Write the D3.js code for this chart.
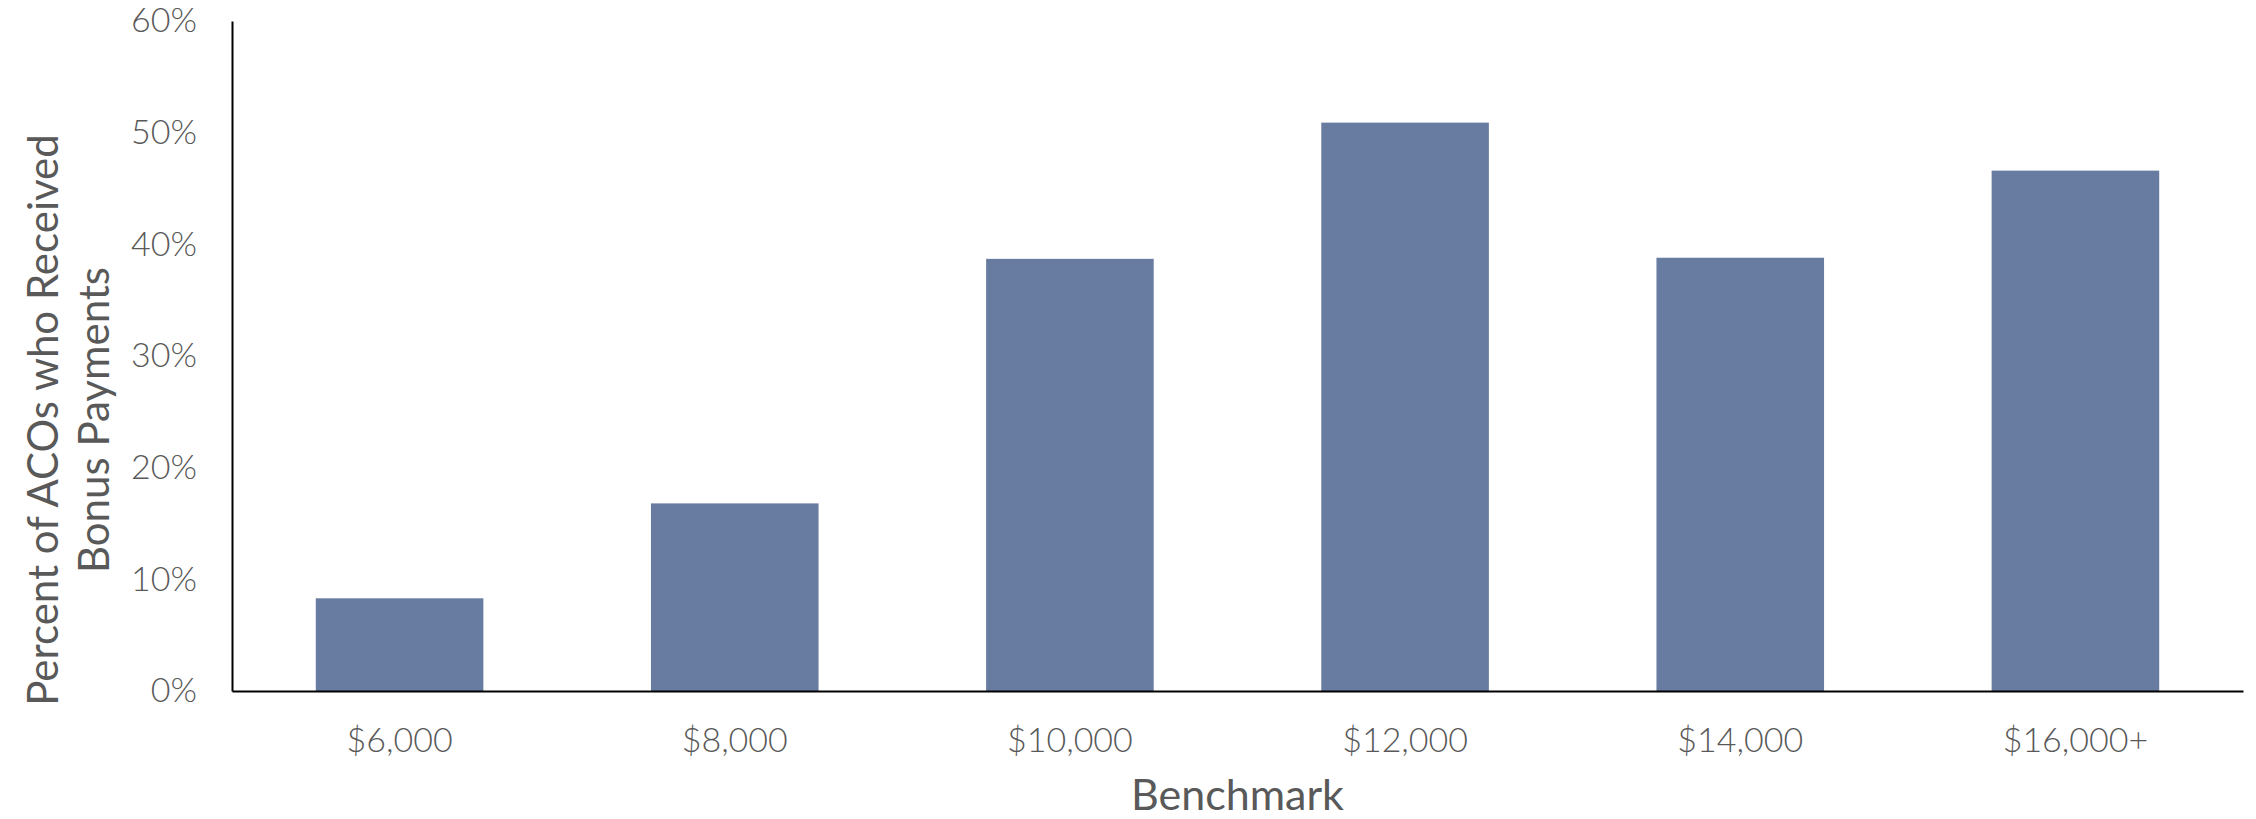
<!DOCTYPE html>
<html>
<head>
<meta charset="utf-8">
<script src="https://cdn.jsdelivr.net/npm/d3@7"></script>
<style>
  body { margin: 0; background: #fff; }
  svg text { font-family: Lato, "Open Sans", sans-serif; fill: #595959; }
</style>
</head>
<body>
<div id="chart"></div>
<script>
const benchmarks = ["$6,000", "$8,000", "$10,000", "$12,000", "$14,000", "$16,000+"];
const percentPaid = [8.3, 16.8, 38.7, 50.9, 38.8, 46.6];
const yTicks = [0, 10, 20, 30, 40, 50, 60];

const WIDTH = 2256, HEIGHT = 819;
const MARGINS = {top: 21, right: 13, bottom: 128, left: 232};
const CHART_WIDTH = WIDTH - MARGINS.left - MARGINS.right;
const CHART_HEIGHT = HEIGHT - MARGINS.top - MARGINS.bottom;
const BAR_COLOR = "#687ba0";

const data = benchmarks.map((b, i) => ({benchmark: b, value: percentPaid[i]}));

const svg = d3.select('#chart')
    .append('svg')
    .attr('width', WIDTH)
    .attr('height', HEIGHT);

const chart = svg.append('g')
    .attr('transform', `translate(${MARGINS.left}, ${MARGINS.top})`);

// scales
const xScale = d3.scaleBand()
    .domain(benchmarks)
    .range([0, CHART_WIDTH])
    .paddingInner(0.5)
    .paddingOuter(0.25);

const yScale = d3.scaleLinear()
    .domain([0, 60])
    .range([CHART_HEIGHT, 0]);

// bars
chart.selectAll('.bar')
    .data(data)
    .enter()
    .append('rect')
    .classed('bar', true)
        .attr('x', d => xScale(d.benchmark))
        .attr('y', d => yScale(d.value))
        .attr('width', xScale.bandwidth())
        .attr('height', d => CHART_HEIGHT - yScale(d.value))
        .style('fill', BAR_COLOR);

// y axis (line only, labels to the left)
const leftAxis = d3.axisLeft(yScale)
    .tickValues(yTicks)
    .tickSize(0)
    .tickPadding(35)
    .tickFormat(d => d + '%');

const yAxisG = chart.append('g').call(leftAxis);
yAxisG.select('.domain').attr('stroke', '#000').attr('stroke-width', 2);
yAxisG.selectAll('text')
    .style('font-size', '34px')
    .style('font-weight', 300)
    .attr('fill', '#595959');

// x axis
const bottomAxis = d3.axisBottom(xScale)
    .tickSize(0)
    .tickPadding(37);

const xAxisG = chart.append('g')
    .attr('transform', `translate(0, ${CHART_HEIGHT})`)
    .call(bottomAxis);
xAxisG.select('.domain').attr('stroke', '#000').attr('stroke-width', 2);
xAxisG.selectAll('text')
    .style('font-size', '34px')
    .style('font-weight', 300)
    .attr('fill', '#595959');

// x axis title
svg.append('text')
    .attr('x', MARGINS.left + CHART_WIDTH / 2)
    .attr('y', 810)
    .attr('text-anchor', 'middle')
    .style('font-size', '43px')
    .text('Benchmark');

// y axis title, two lines
const yTitle = svg.append('text')
    .attr('transform', 'translate(58, 420) rotate(-90)')
    .attr('text-anchor', 'middle')
    .style('font-size', '42px');
yTitle.append('tspan')
    .attr('x', 0)
    .attr('dy', 0)
    .text('Percent of ACOs who Received');
yTitle.append('tspan')
    .attr('x', 0)
    .attr('dy', 51)
    .text('Bonus Payments');
</script>
</body>
</html>
